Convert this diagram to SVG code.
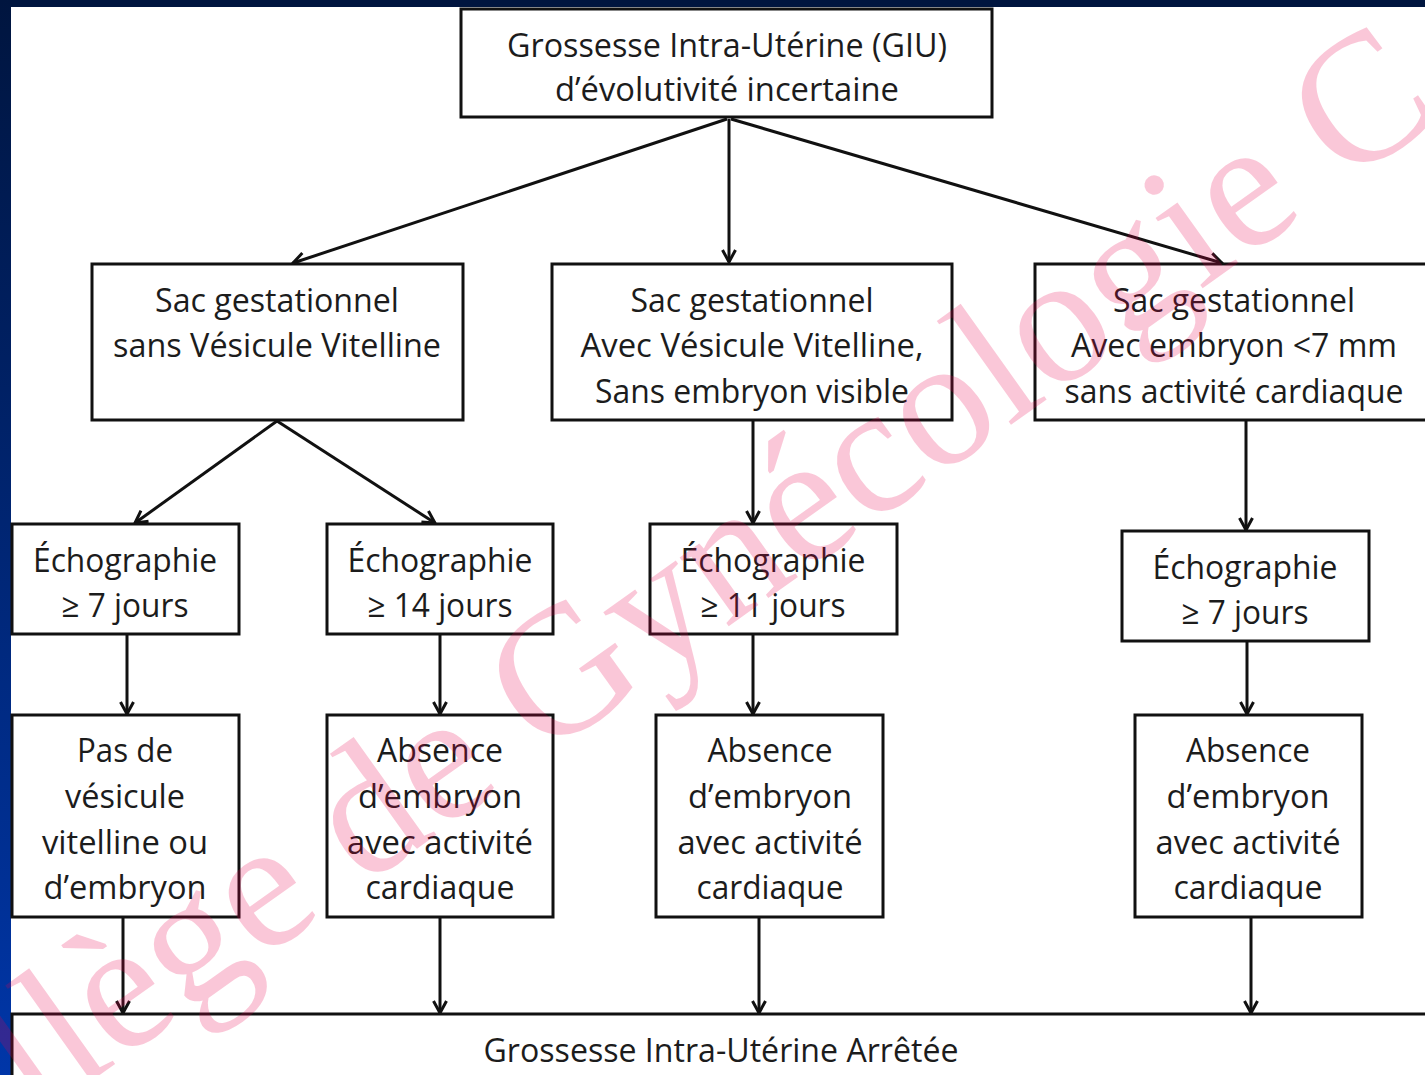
<svg xmlns="http://www.w3.org/2000/svg" width="1425" height="1075" viewBox="0 0 1425 1075">
<defs>
<linearGradient id="lg" x1="0" y1="0" x2="0" y2="1">
<stop offset="0" stop-color="#00153f"/>
<stop offset="1" stop-color="#0036a8"/>
</linearGradient>
<marker id="arr" markerUnits="userSpaceOnUse" markerWidth="18" markerHeight="18" viewBox="0 0 18 18" refX="15" refY="9" orient="auto">
<path d="M3,2.5 L15,9 L3,15.5" fill="none" stroke="#111" stroke-width="3"/>
</marker>
<style>
.box{fill:#fff;stroke:#111;stroke-width:3}
.t{font-family:"Open Sans","Noto Sans","Liberation Sans",sans-serif;font-size:33px;fill:#1c1c1c;text-anchor:middle}
.c{stroke:#111;stroke-width:3;fill:none;marker-end:url(#arr)}
.wm{font-family:"Liberation Serif","DejaVu Serif",serif;font-size:184px;fill:#e6004f;fill-opacity:0.22}
</style>
</defs>
<rect x="0" y="0" width="1425" height="1075" fill="#fff"/>
<rect x="0" y="0" width="1425" height="7" fill="#00153f"/>
<rect x="0" y="0" width="11" height="1075" fill="url(#lg)"/>

<g id="connectors">
<line class="c" x1="727" y1="119" x2="293" y2="263"/>
<line class="c" x1="729" y1="119" x2="729" y2="262"/>
<line class="c" x1="731" y1="119" x2="1222" y2="263"/>
<line class="c" x1="277" y1="421" x2="135" y2="523"/>
<line class="c" x1="277" y1="421" x2="435" y2="523"/>
<line class="c" x1="753" y1="421" x2="753" y2="523"/>
<line class="c" x1="1246" y1="421" x2="1246" y2="530"/>
<line class="c" x1="127" y1="635" x2="127" y2="714"/>
<line class="c" x1="440" y1="635" x2="440" y2="714"/>
<line class="c" x1="753" y1="635" x2="753" y2="714"/>
<line class="c" x1="1247" y1="642" x2="1247" y2="714"/>
<line class="c" x1="123" y1="918" x2="123" y2="1013"/>
<line class="c" x1="440" y1="918" x2="440" y2="1013"/>
<line class="c" x1="759" y1="918" x2="759" y2="1013"/>
<line class="c" x1="1251" y1="918" x2="1251" y2="1013"/>
</g>

<g id="top">
<rect class="box" x="461" y="9" width="531" height="108"/>
<text class="t" x="727" y="57" textLength="440" lengthAdjust="spacingAndGlyphs">Grossesse Intra-Utérine (GIU)</text>
<text class="t" x="727" y="101" textLength="344" lengthAdjust="spacingAndGlyphs">d’évolutivité incertaine</text>
</g>

<g id="sac-sans-vv">
<rect class="box" x="92" y="264" width="371" height="156"/>
<text class="t" x="277" y="312" textLength="244" lengthAdjust="spacingAndGlyphs">Sac gestationnel</text>
<text class="t" x="277" y="357" textLength="328" lengthAdjust="spacingAndGlyphs">sans Vésicule Vitelline</text>
</g>

<g id="sac-avec-vv">
<rect class="box" x="552" y="264" width="400" height="156"/>
<text class="t" x="752" y="312" textLength="243" lengthAdjust="spacingAndGlyphs">Sac gestationnel</text>
<text class="t" x="752" y="357" textLength="343" lengthAdjust="spacingAndGlyphs">Avec Vésicule Vitelline,</text>
<text class="t" x="752" y="403" textLength="314" lengthAdjust="spacingAndGlyphs">Sans embryon visible</text>
</g>

<g id="sac-embryon">
<rect class="box" x="1035" y="264" width="400" height="156"/>
<text class="t" x="1234" y="312" textLength="242" lengthAdjust="spacingAndGlyphs">Sac gestationnel</text>
<text class="t" x="1234" y="357" textLength="326" lengthAdjust="spacingAndGlyphs">Avec embryon &lt;7 mm</text>
<text class="t" x="1234" y="403" textLength="339" lengthAdjust="spacingAndGlyphs">sans activité cardiaque</text>
</g>

<g id="echo1">
<rect class="box" x="12" y="524" width="227" height="110"/>
<text class="t" x="125" y="572" textLength="184" lengthAdjust="spacingAndGlyphs">Échographie</text>
<text class="t" x="125" y="617" textLength="127" lengthAdjust="spacingAndGlyphs">≥ 7 jours</text>
</g>

<g id="echo2">
<rect class="box" x="327" y="524" width="226" height="110"/>
<text class="t" x="440" y="572" textLength="185" lengthAdjust="spacingAndGlyphs">Échographie</text>
<text class="t" x="440" y="617" textLength="145" lengthAdjust="spacingAndGlyphs">≥ 14 jours</text>
</g>

<g id="echo3">
<rect class="box" x="650" y="524" width="247" height="110"/>
<text class="t" x="773" y="572" textLength="185" lengthAdjust="spacingAndGlyphs">Échographie</text>
<text class="t" x="773" y="617" textLength="145" lengthAdjust="spacingAndGlyphs">≥ 11 jours</text>
</g>

<g id="echo4">
<rect class="box" x="1122" y="531" width="247" height="110"/>
<text class="t" x="1245" y="579" textLength="185" lengthAdjust="spacingAndGlyphs">Échographie</text>
<text class="t" x="1245" y="624" textLength="127" lengthAdjust="spacingAndGlyphs">≥ 7 jours</text>
</g>

<g id="res1">
<rect class="box" x="12" y="715" width="227" height="202"/>
<text class="t" x="125" y="762" textLength="96" lengthAdjust="spacingAndGlyphs">Pas de</text>
<text class="t" x="125" y="808" textLength="120" lengthAdjust="spacingAndGlyphs">vésicule</text>
<text class="t" x="125" y="854" textLength="166" lengthAdjust="spacingAndGlyphs">vitelline ou</text>
<text class="t" x="125" y="899" textLength="163" lengthAdjust="spacingAndGlyphs">d’embryon</text>
</g>

<g id="res2">
<rect class="box" x="327" y="715" width="226" height="202"/>
<text class="t" x="440" y="762" textLength="126" lengthAdjust="spacingAndGlyphs">Absence</text>
<text class="t" x="440" y="808" textLength="164" lengthAdjust="spacingAndGlyphs">d’embryon</text>
<text class="t" x="440" y="854" textLength="186" lengthAdjust="spacingAndGlyphs">avec activité</text>
<text class="t" x="440" y="899" textLength="149" lengthAdjust="spacingAndGlyphs">cardiaque</text>
</g>

<g id="res3">
<rect class="box" x="656" y="715" width="227" height="202"/>
<text class="t" x="770" y="762" textLength="125" lengthAdjust="spacingAndGlyphs">Absence</text>
<text class="t" x="770" y="808" textLength="164" lengthAdjust="spacingAndGlyphs">d’embryon</text>
<text class="t" x="770" y="854" textLength="185" lengthAdjust="spacingAndGlyphs">avec activité</text>
<text class="t" x="770" y="899" textLength="147" lengthAdjust="spacingAndGlyphs">cardiaque</text>
</g>

<g id="res4">
<rect class="box" x="1135" y="715" width="227" height="202"/>
<text class="t" x="1248" y="762" textLength="124" lengthAdjust="spacingAndGlyphs">Absence</text>
<text class="t" x="1248" y="808" textLength="163" lengthAdjust="spacingAndGlyphs">d’embryon</text>
<text class="t" x="1248" y="854" textLength="185" lengthAdjust="spacingAndGlyphs">avec activité</text>
<text class="t" x="1248" y="899" textLength="149" lengthAdjust="spacingAndGlyphs">cardiaque</text>
</g>

<g id="arretee">
<rect class="box" x="12" y="1014" width="1425" height="80"/>
<text class="t" x="721" y="1062" textLength="475" lengthAdjust="spacingAndGlyphs">Grossesse Intra-Utérine Arrêtée</text>
</g>

<text class="wm" transform="translate(-140,1246) rotate(-35.5)">Collège de Gynécologie C</text>
</svg>
